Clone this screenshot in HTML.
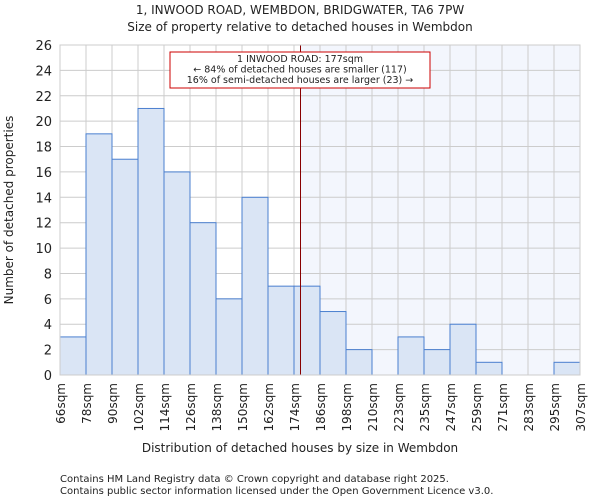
<!DOCTYPE html>
<html><head><meta charset="utf-8"><style>
body{margin:0;background:#fff;font-family:"DejaVu Sans","Liberation Sans",sans-serif}
svg text{font-family:"DejaVu Sans","Liberation Sans",sans-serif;fill:#222}
</style></head><body>
<svg id="chart" width="600" height="500">
<text x="300" y="14" font-size="12" text-anchor="middle">1, INWOOD ROAD, WEMBDON, BRIDGWATER, TA6 7PW</text>
<text x="300" y="31" font-size="12" text-anchor="middle">Size of property relative to detached houses in Wembdon</text>
<g id="plot"></g>
<text x="300" y="452" font-size="12" text-anchor="middle">Distribution of detached houses by size in Wembdon</text>
<text transform="translate(13,210) rotate(-90)" font-size="12" text-anchor="middle">Number of detached properties</text>
<text x="60" y="482" font-size="10">Contains HM Land Registry data © Crown copyright and database right 2025.</text>
<text x="60" y="494" font-size="10">Contains public sector information licensed under the Open Government Licence v3.0.</text>
</svg>
<script>
const binLabels=["66sqm","78sqm","90sqm","102sqm","114sqm","126sqm","138sqm","150sqm","162sqm","174sqm","186sqm","198sqm","210sqm","223sqm","235sqm","247sqm","259sqm","271sqm","283sqm","295sqm","307sqm"];
const counts=[3,19,17,21,16,12,6,14,7,7,5,2,0,3,2,4,1,0,0,1];
const yTicks=[0,2,4,6,8,10,12,14,16,18,20,22,24,26];
const markerBin=9.25;
const ns="http://www.w3.org/2000/svg";
const L=60,R=580,T=45,B=375,yMax=26;
const bw=(R-L)/counts.length;
const xs=i=>L+i*bw;
const ys=v=>B-(v/yMax)*(B-T);
const g=document.getElementById('plot');
function mk(t,a){const e=document.createElementNS(ns,t);for(const k in a)e.setAttribute(k,a[k]);g.appendChild(e);return e;}
let e=mk('rect',{x:xs(markerBin),y:T,width:R-xs(markerBin),height:B-T,fill:'#f3f6fd'});


for(const t of yTicks){e=mk('line',{x1:L,x2:R,y1:ys(t),y2:ys(t),stroke:'#ccc','stroke-width':1});


e=mk('text',{x:L-8,y:ys(t)+5,'font-size':13,'text-anchor':'end'});e.textContent=t;

}
binLabels.forEach((lb,i)=>{e=mk('line',{x1:xs(i),x2:xs(i),y1:T,y2:B,stroke:'#ccc','stroke-width':1});


e=mk('text',{transform:`translate(${xs(i)+5},${B+8}) rotate(-90)`,'font-size':12,'text-anchor':'end'});e.textContent=lb;

});
counts.forEach((v,i)=>{if(!v)return;e=mk('rect',{x:xs(i),y:ys(v),width:bw,height:B-ys(v),fill:'#dae5f5',stroke:'#4a7fcf','stroke-width':1});

});
e=mk('line',{x1:xs(markerBin),x2:xs(markerBin),y1:T,y2:B,stroke:'#800','stroke-width':1});


e=mk('rect',{x:170,y:52,width:260,height:36,fill:'#fff',stroke:'#c00','stroke-width':1});


["1 INWOOD ROAD: 177sqm","← 84% of detached houses are smaller (117)","16% of semi-detached houses are larger (23) →"].forEach((s,i)=>{
e=mk('text',{x:300,y:62+i*10.5,'font-size':9.5,'text-anchor':'middle'});e.textContent=s;

});
e=mk('rect',{x:L,y:T,width:R-L,height:B-T,fill:'none',stroke:'#ccc'});


</script>
</body></html>
